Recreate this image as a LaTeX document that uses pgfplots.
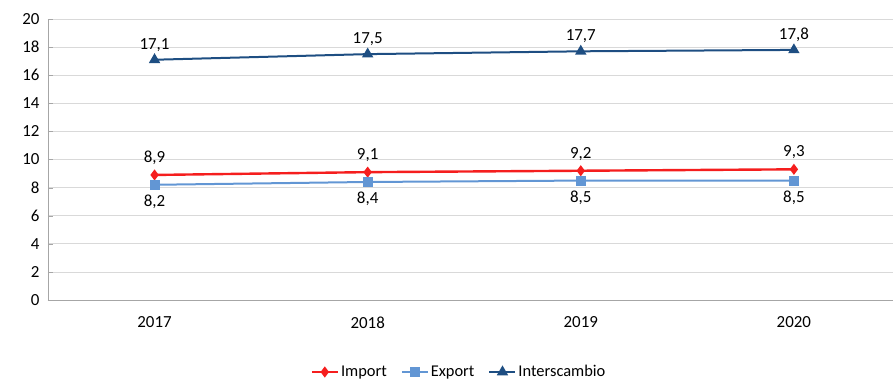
\documentclass[border=0pt]{standalone}
\usepackage{fontspec}
\setmainfont{Carlito}
\usepackage{pgfplots}
\pgfplotsset{compat=1.18}
\definecolor{cimp}{RGB}{245,30,30}
\definecolor{cexp}{RGB}{98,150,212}
\definecolor{cint}{RGB}{30,78,130}
\definecolor{cgrid}{RGB}{217,217,217}
\definecolor{caxis}{RGB}{166,166,166}
\begin{document}
\begin{tikzpicture}[x=1bp,y=1bp]
\begin{axis}[
  name=ax,
  scale only axis,
  width=845bp, height=281bp,
  xmin=-0.5, xmax=3.465,
  ymin=0, ymax=20,
  ytick={0,2,...,20},
  xtick={0,1,2,3},
  xticklabels={2017,2018,2019,2020},
  extra x ticks={0.5,1.5,2.5},
  extra x tick labels={},
  extra x tick style={grid=none, major tick length=5bp, tick style={caxis}},
  axis x line*=bottom,
  axis y line*=left,
  axis line style={caxis, line width=0.8bp},
  x axis line style={-},
  y axis line style={-},
  ymajorgrids,
  grid style={cgrid, line width=0.8bp},
  major x tick style={draw=none},
  major y tick style={caxis},
  major tick length=5bp,
  tick label style={font=\fontsize{17}{19}\selectfont},
  /pgf/number format/assume math mode=true,
  xticklabel style={yshift=-13bp},
  yticklabel style={xshift=-5bp},
  nodes near coords,
  nodes near coords style={font=\fontsize{17}{19}\selectfont, text=black,
    /pgf/number format/use comma, /pgf/number format/fixed, /pgf/number format/fixed zerofill, /pgf/number format/precision=1},
  legend columns=3,
  legend style={draw=none, at={(411bp,-72bp)}, anchor=center, font=\fontsize{16.5}{18}\selectfont, /tikz/every even column/.append style={column sep=12bp}},
  legend image code/.code={
    \draw[mark repeat=2, mark phase=2, #1] plot coordinates {(0bp,0bp) (13bp,0bp) (26bp,0bp)};
  },
  clip=false,
]
\addplot[cimp, line width=2.4bp, mark=diamond*, mark size=3.6bp, mark options={solid},
  nodes near coords align={above}, every node near coord/.append style={yshift=6bp}]
  coordinates {(0,8.9) (1,9.1) (2,9.2) (3,9.3)};
\addlegendentry{Import}
\addplot[cexp, line width=2bp, mark=square*, mark size=4bp,
  nodes near coords align={below}, every node near coord/.append style={yshift=-6bp}]
  coordinates {(0,8.2) (1,8.4) (2,8.5) (3,8.5)};
\addlegendentry{Export}
\addplot[cint, line width=2bp, mark=triangle*, mark size=4.6bp,
  nodes near coords align={above}, every node near coord/.append style={yshift=4bp}]
  coordinates {(0,17.1) (1,17.5) (2,17.7) (3,17.8)};
\addlegendentry{Interscambio}
\end{axis}
\pgfresetboundingbox
\path[use as bounding box] ([xshift=-48bp,yshift=-79bp]ax.south west) rectangle ([yshift=19bp]ax.north east);
\end{tikzpicture}
\end{document}
